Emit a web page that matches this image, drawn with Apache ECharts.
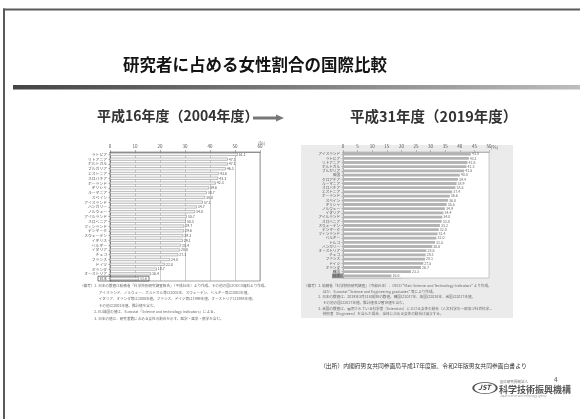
<!DOCTYPE html>
<html>
<head>
<meta charset="utf-8">
<script src="https://cdn.jsdelivr.net/npm/echarts@6/dist/echarts.min.js"></script>
<style>
  html, body { margin: 0; padding: 0; background: #fff; }
  #slide { width: 580px; height: 419px; }
</style>
</head>
<body>
<div id="slide"></div>
<script>
// 研究者に占める女性割合（%）— 平成16年度
const countries2004 = [
  'ラトビア', 'リトアニア', 'ポルトガル', 'ブルガリア', 'エストニア', 'スロバキア',
  'ポーランド', 'ギリシャ', 'ルーマニア', 'スペイン', 'アイスランド', 'ハンガリー',
  'ノルウェー', 'アイルランド', 'スロベニア', 'フィンランド', 'デンマーク', 'スウェーデン',
  'イギリス', 'ベルギー', 'イタリア', 'チェコ', 'フランス', 'ドイツ', 'オランダ',
  'オーストリア', '日本'
];
const values2004 = [
  51.1, 47.1, 47.1, 46.3, 43.6, 43.3, 42.3, 39.6, 38.7, 38.0, 37.1, 34.7, 34.0,
  30.7, 30.3, 29.7, 29.6, 29.3, 29.1, 28.4, 28.0, 27.3, 24.0, 22.0, 18.7, 16.4, 11.6
];

// 研究者に占める女性割合（%）— 平成31年度
const countries2019 = [
  'アイスランド', 'ラトビア', 'リトアニア', 'ポルトガル', 'ブルガリア', '英国',
  'クロアチア', 'ルーマニア', 'スロバキア', 'エストニア', 'ポーランド', 'スペイン',
  'ギリシャ', 'ノルウェー', 'イタリア', 'アイルランド', 'スロベニア', 'スウェーデン',
  'デンマーク', 'フィンランド', 'ベルギー', 'トルコ', 'ハンガリー', 'オーストリア',
  'チェコ', 'フランス', 'ドイツ', 'オランダ', '韓国', '日本'
];
const values2019 = [
  43.8, 43.1, 42.6, 42.3, 41.5, 40.0, 39.4, 38.9, 38.5, 37.4, 36.6, 36.0, 35.5,
  34.9, 34.4, 34.0, 33.8, 33.2, 32.8, 32.4, 32.0, 31.5, 30.6, 28.6, 28.3, 28.1,
  27.5, 26.7, 23.3, 16.6
];

// axis ranges (%)
const axis2004 = { min: 0, max: 60, interval: 10 };
const axis2019 = { min: 0, max: 50, interval: 5 };

const notes2004 = [
  '（備考）1. 日本の数値は総務省「科学技術研究調査報告」（平成16年）より作成。その他の国はOECD資料より作成。',
  '　　　　　 アイスランド、ノルウェー、ポルトガル等は2002年、スウェーデン、ベルギー等は2001年値。',
  '　　　　　 イタリア、オランダ等は2000年値。フランス、ドイツ等は1999年値。オーストリアは1998年値。',
  '　　　　　 その他は2003年値。推計値を含む。',
  '　　　　2. EU諸国の値は、Eurostat「Science and technology indicators」による。',
  '　　　　3. 日本の値は、研究者数に占める女性の割合を示す。医学・歯学・薬学を含む。'
];
const notes2019 = [
  '（備考）1. 総務省「科学技術研究調査」（令和元年）、OECD “Main Science and Technology Indicators” より作成。',
  '　　　　　 ほか、Eurostat “Science and Engineering graduates” 等により作成。',
  '　　　　2. 日本の数値は、2019年3月31日現在の数値。韓国は2017年、英国は2018年、米国は2017年値。',
  '　　　　　 その他の国は2017年値。推計値及び暫定値を含む。',
  '　　　　3. 米国の数値は、雇用されている科学者（Scientists）における女性の割合（人文科学の一部及び社会科学を含む）。',
  '　　　　　 技術者（Engineers）を含んだ場合、全体に占める女性の割合は減少する。'
];

const chart = echarts.init(document.getElementById('slide'), null, { renderer: 'canvas' });
const FONT = '"Noto Sans CJK JP", "Noto Sans", sans-serif';

function noteText(lines, x, y0, step, id) {
  return lines.map((t, i) => ({
    type: 'text', id: id + i, left: x, top: y0 + i * step,
    style: { text: t, fontSize: 3.6, fill: '#6a6a6a', fontFamily: FONT,
             width: 190, overflow: 'truncate' }
  }));
}

const graphics = [
  // slide frame
  { type: 'rect', id: 'frameTop', shape: { x: 3, y: 8.5, width: 577, height: 2 }, style: { fill: '#5a5a5a' } },
  { type: 'rect', id: 'frameLeft', shape: { x: 3, y: 8.5, width: 2, height: 411 }, style: { fill: '#5a5a5a' } },
  // heading rule with gradient
  { type: 'rect', id: 'rule', shape: { x: 13, y: 85, width: 567, height: 4.5 },
    style: { fill: new echarts.graphic.LinearGradient(0, 0, 1, 0, [
      { offset: 0, color: '#454545' }, { offset: 0.5, color: '#7d7d7d' }, { offset: 1, color: '#bdbdbd' }]) } },
  // title
  { type: 'text', id: 'title', left: 123, top: 56,
    style: { text: '研究者に占める女性割合の国際比較', fontSize: 16.5, fontWeight: 'bold',
             fill: '#141414', fontFamily: FONT } },
  // period headings
  { type: 'text', id: 'sub1', left: 97, top: 109,
    style: { text: '平成16年度（2004年度）', fontSize: 14, fontWeight: 'bold', fill: '#333', fontFamily: FONT } },
  { type: 'text', id: 'sub2', left: 350, top: 109,
    style: { text: '平成31年度（2019年度）', fontSize: 14.5, fontWeight: 'bold', fill: '#333', fontFamily: FONT } },
  // arrow between headings
  { type: 'rect', id: 'arrowBody', shape: { x: 253, y: 116.5, width: 24, height: 3 }, style: { fill: '#777' } },
  { type: 'polygon', id: 'arrowHead', shape: { points: [[276, 114.5], [284, 118], [276, 121.5]] }, style: { fill: '#777' } },
  // backdrop of the 2019 figure
  { type: 'rect', id: 'bg2019', z: -10, shape: { x: 301, y: 145, width: 212, height: 173 }, style: { fill: '#ebebeb' } },
  // percent units
  { type: 'text', id: 'unit1', left: 258, top: 141, style: { text: '(%)', fontSize: 4.5, fill: '#777', fontFamily: FONT } },
  { type: 'text', id: 'unit2', left: 491, top: 145, style: { text: '(%)', fontSize: 4.5, fill: '#666', fontFamily: FONT } },
  // source line
  { type: 'text', id: 'source', left: 320, top: 363,
    style: { text: '（出所）内閣府男女共同参画局平成17年度版、令和2年版男女共同参画白書より',
             fontSize: 5.8, fill: '#333', fontFamily: FONT } },
  // page number
  { type: 'text', id: 'page', left: 554, top: 376, style: { text: '4', fontSize: 6.5, fill: '#555', fontFamily: FONT } },
  // organisation mark
  { type: 'circle', id: 'logoRing', shape: { cx: 0, cy: 0, r: 5.6 }, x: 485, y: 388, scaleX: 2.1,
    style: { fill: 'none', stroke: '#555', lineWidth: 0.9 } },
  { type: 'text', id: 'logoJST', left: 478, top: 384,
    style: { text: 'JST', fontSize: 7, fontStyle: 'italic', fontWeight: 'bold', fill: '#444', fontFamily: FONT } },
  { type: 'text', id: 'logoSmall', left: 500, top: 380,
    style: { text: '国立研究開発法人', fontSize: 3.5, fill: '#666', fontFamily: FONT } },
  { type: 'text', id: 'logoName', left: 499, top: 385,
    style: { text: '科学技術振興機構', fontSize: 9, fontWeight: 'bold', fill: '#555', fontFamily: FONT } },
  { type: 'text', id: 'logoEn', left: 500, top: 395,
    style: { text: 'Japan Science and Technology Agency', fontSize: 2.6, fill: '#999', fontFamily: FONT } }
].concat(noteText(notes2004, 80, 284, 6.5, 'n04_'), noteText(notes2019, 304, 284, 5.6, 'n19_'));

const option = {
  animation: false,
  backgroundColor: '#fff',
  textStyle: { fontFamily: FONT },
  grid: [
    { left: 110, top: 152, width: 150, height: 129, show: true, backgroundColor: '#fff',
      borderColor: '#666', borderWidth: 0.6 },
    { left: 343, top: 152, width: 146, height: 126, show: true, backgroundColor: '#fff',
      borderColor: '#999', borderWidth: 0.5 }
  ],
  xAxis: [
    { gridIndex: 0, type: 'value', position: 'top', min: axis2004.min, max: axis2004.max, interval: axis2004.interval,
      axisLabel: { fontSize: 4.5, color: '#555', margin: 3 },
      axisLine: { show: true, lineStyle: { color: '#666', width: 0.6 } },
      axisTick: { show: true, length: 2, lineStyle: { color: '#666', width: 0.5 } },
      splitLine: { show: true, lineStyle: { color: '#9a9a9a', width: 0.5 } } },
    { gridIndex: 1, type: 'value', position: 'top', min: axis2019.min, max: axis2019.max, interval: axis2019.interval,
      axisLabel: { fontSize: 4.5, color: '#555', margin: 3 },
      axisLine: { show: true, lineStyle: { color: '#888', width: 0.5 } },
      axisTick: { show: true, length: 2, lineStyle: { color: '#888', width: 0.5 } },
      splitLine: { show: false } }
  ],
  yAxis: [
    { gridIndex: 0, type: 'category', data: countries2004, inverse: true,
      axisLabel: { fontSize: 3.8, color: '#555', margin: 3, interval: 0 },
      axisTick: { show: true, length: 1.5, alignWithLabel: true, lineStyle: { color: '#666', width: 0.5 } },
      axisLine: { show: true, lineStyle: { color: '#555', width: 0.6 } } },
    { gridIndex: 1, type: 'category', data: countries2019, inverse: true,
      axisLabel: { fontSize: 3.6, color: '#555', margin: 3, interval: 0 },
      axisTick: { show: true, length: 1.5, alignWithLabel: true, lineStyle: { color: '#888', width: 0.5 } },
      axisLine: { show: true, lineStyle: { color: '#777', width: 0.5 } } }
  ],
  series: [
    { type: 'bar', xAxisIndex: 0, yAxisIndex: 0, data: values2004, barWidth: '60%',
      itemStyle: { color: '#f7f7f7', borderColor: '#7a7a7a', borderWidth: 0.5 },
      label: { show: true, position: 'right', distance: 1, fontSize: 3.6, color: '#555',
               formatter: p => p.value.toFixed(1) } },
    { type: 'bar', xAxisIndex: 1, yAxisIndex: 1, data: values2019, barWidth: '66%',
      itemStyle: { color: '#b4b4b4' },
      label: { show: true, position: 'right', distance: 1, fontSize: 3.6, color: '#666',
               formatter: p => p.value.toFixed(1) } }
  ],
  graphic: { elements: graphics }
};

chart.setOption(option);

// frames around the Japan rows, placed from the axis scales
const jp04 = chart.convertToPixel({ xAxisIndex: 0, yAxisIndex: 0 }, [values2004[values2004.length - 1], '日本']);
const base04 = chart.convertToPixel({ xAxisIndex: 0, yAxisIndex: 0 }, [0, '日本']);
const jp19 = chart.convertToPixel({ xAxisIndex: 1, yAxisIndex: 1 }, [values2019[values2019.length - 1], '日本']);
const base19 = chart.convertToPixel({ xAxisIndex: 1, yAxisIndex: 1 }, [0, '日本']);

chart.setOption({
  graphic: { elements: [
    { type: 'rect', id: 'jpBox04', z: 10,
      shape: { x: base04[0] - 12, y: jp04[1] - 2.4, width: (jp04[0] - base04[0]) + 22, height: 4.8 },
      style: { fill: 'none', stroke: '#444', lineWidth: 0.7 } },
    { type: 'rect', id: 'jpBox19', z: -1,
      shape: { x: base19[0] - 11, y: jp19[1] - 2.3, width: (jp19[0] - base19[0]) + 21, height: 4.6 },
      style: { fill: '#8c8c8c' } }
  ] }
});
</script>
</body>
</html>
